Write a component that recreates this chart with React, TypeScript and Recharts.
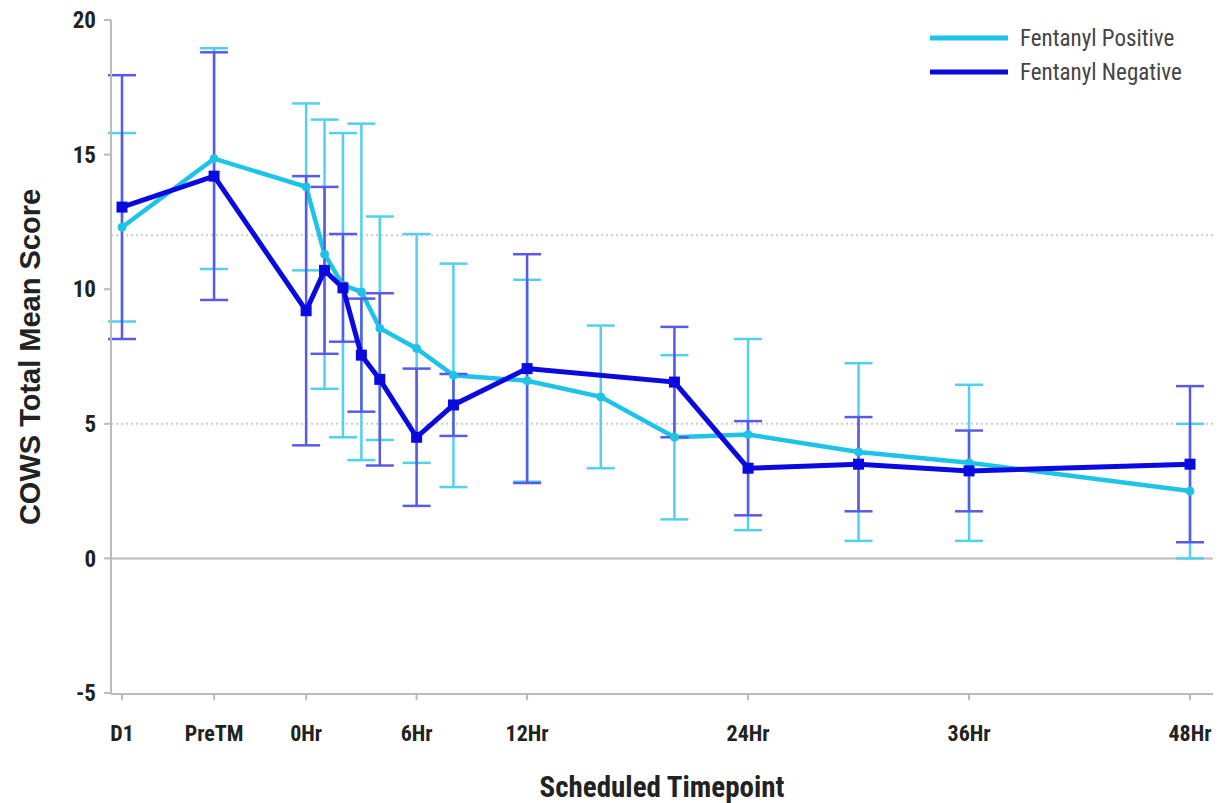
import React from "react";
import {
  LineChart,
  Line,
  XAxis,
  YAxis,
  ErrorBar,
  ReferenceLine,
  Label,
} from "recharts";

// x positions are hours relative to treatment (D1 and PreTM sit before 0Hr)
const tickHours = [-10, -5, 0, 6, 12, 24, 36, 48];
const tickLabels = ["D1", "PreTM", "0Hr", "6Hr", "12Hr", "24Hr", "36Hr", "48Hr"];

const posHours = [-10, -5, 0, 1, 2, 3, 4, 6, 8, 12, 16, 20, 24, 30, 36, 48];
const posMean = [12.3, 14.85, 13.8, 11.3, 10.15, 9.9, 8.55, 7.8, 6.8, 6.6, 6.0, 4.5, 4.6, 3.95, 3.55, 2.5];
const posSd = [3.5, 4.1, 3.1, 5.0, 5.65, 6.25, 4.15, 4.25, 4.15, 3.75, 2.65, 3.05, 3.55, 3.3, 2.9, 2.5];

const negHours = [-10, -5, 0, 1, 2, 3, 4, 6, 8, 12, 20, 24, 30, 36, 48];
const negMean = [13.05, 14.2, 9.2, 10.7, 10.05, 7.55, 6.65, 4.5, 5.7, 7.05, 6.55, 3.35, 3.5, 3.25, 3.5];
const negSd = [4.9, 4.6, 5.0, 3.1, 2.0, 2.1, 3.2, 2.55, 1.15, 4.25, 2.05, 1.75, 1.75, 1.5, 2.9];

const posData = posHours.map((h, i) => ({ hour: h, mean: posMean[i], sd: posSd[i] }));
const negData = negHours.map((h, i) => ({ hour: h, mean: negMean[i], sd: negSd[i] }));

const CYAN = "#1ec3e8";
const BLUE = "#0a0ae0";
const narrow = "'Liberation Sans Narrow', 'Roboto Condensed', 'DejaVu Sans Condensed', Roboto, sans-serif";
const axisFont = "'Liberation Sans', Arial, sans-serif";

const series = [
  { name: "Fentanyl Positive", color: CYAN },
  { name: "Fentanyl Negative", color: BLUE },
];

const SquareDot = (props: any) => {
  const { cx, cy } = props;
  if (cx == null || cy == null) return null;
  return <rect x={cx - 5.5} y={cy - 5.5} width={11} height={11} fill={BLUE} />;
};

// drawn outside the chart so it doesn't eat into the plot area
const LegendBox = () => (
  <svg width={290} height={80} style={{ position: "absolute", left: 925, top: 20 }}>
    {series.map((s, i) => (
      <g key={s.name} transform={`translate(0, ${i * 34})`}>
        <line x1={5} x2={83} y1={18} y2={18} stroke={s.color} strokeWidth={5} />
        <text x={95} y={26} fontSize={23} fill="#444" fontFamily={narrow}>
          {s.name}
        </text>
      </g>
    ))}
  </svg>
);

export default function App() {
  return (
    <div style={{ position: "absolute", left: 0, top: 0, width: 1224, height: 803, background: "#fff" }}>
      <LineChart width={1224} height={803} margin={{ top: 20, right: 11, bottom: 0, left: 0 }}>
        <XAxis
          dataKey="hour"
          type="number"
          domain={[-10, 48]}
          ticks={tickHours}
          tickFormatter={(v: number) => tickLabels[tickHours.indexOf(v)] ?? ""}
          padding={{ left: 11, right: 23 }}
          height={109}
          tickSize={6}
          tickMargin={25}
          stroke="#bbb"
          strokeWidth={2}
          tick={{ fill: "#222", fontSize: 22, fontWeight: 700, fontFamily: narrow }}
          allowDuplicatedCategory={false}
        >
          <Label
            value="Scheduled Timepoint"
            position="insideBottom"
            offset={6}
            style={{ fill: "#222", fontSize: 29, fontWeight: 700, fontFamily: narrow }}
          />
        </XAxis>
        <YAxis
          type="number"
          domain={[-5, 20]}
          ticks={[-5, 0, 5, 10, 15, 20]}
          padding={{ top: 0, bottom: 1 }}
          width={111}
          tickSize={7}
          tickMargin={8}
          stroke="#bbb"
          strokeWidth={2}
          tick={{ fill: "#222", fontSize: 23, fontWeight: 700, fontFamily: narrow }}
        >
          <Label
            value="COWS Total Mean Score"
            angle={-90}
            position="insideLeft"
            offset={30}
            style={{ textAnchor: "middle", fill: "#222", fontSize: 29, fontWeight: 700, fontFamily: axisFont }}
          />
        </YAxis>
        <ReferenceLine y={12} stroke="#ccc" strokeWidth={2} strokeDasharray="2 3" />
        <ReferenceLine y={5} stroke="#ccc" strokeWidth={2} strokeDasharray="2 3" />
        <ReferenceLine y={0} stroke="#bbb" strokeWidth={2} />
        <Line
          data={posData}
          dataKey="mean"
          name="Fentanyl Positive"
          stroke={CYAN}
          strokeWidth={4.5}
          dot={{ r: 4, fill: CYAN, stroke: CYAN, strokeWidth: 1 }}
          isAnimationActive={false}
        >
          <ErrorBar dataKey="sd" direction="y" width={14} stroke="#52d0ee" strokeWidth={2.5} />
        </Line>
        <Line
          data={negData}
          dataKey="mean"
          name="Fentanyl Negative"
          stroke={BLUE}
          strokeWidth={5}
          dot={<SquareDot />}
          isAnimationActive={false}
        >
          <ErrorBar dataKey="sd" direction="y" width={14} stroke="#5a5ae8" strokeWidth={2.5} />
        </Line>
      </LineChart>
      <LegendBox />
    </div>
  );
}
